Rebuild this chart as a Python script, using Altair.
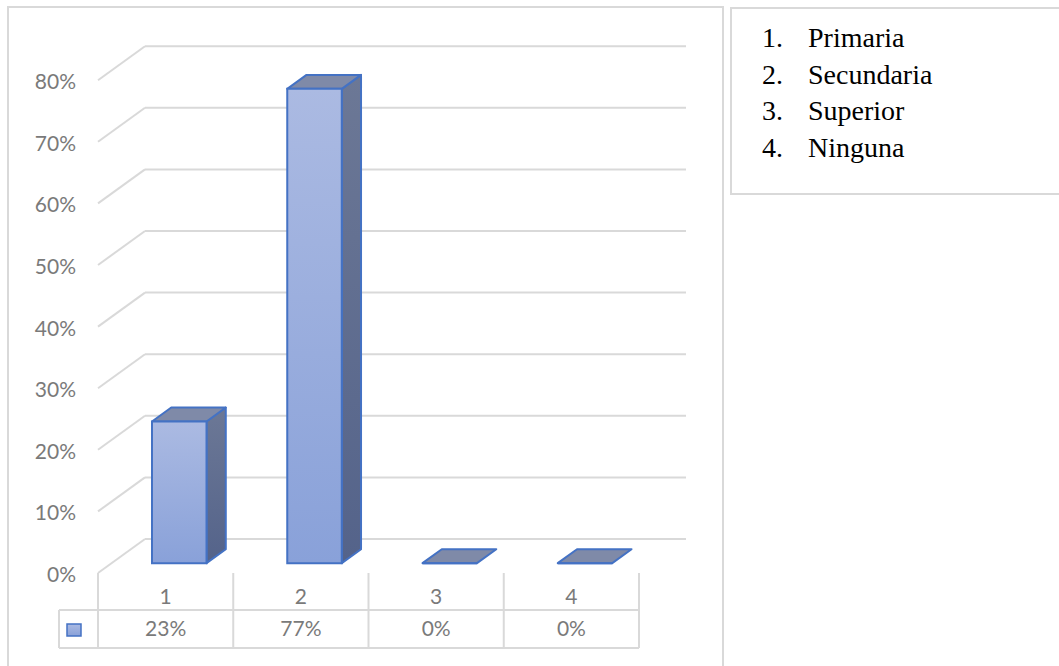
import altair as alt
import pandas as pd

# ---- data -------------------------------------------------------------
categories = ["1", "2", "3", "4"]
shares = [23, 77, 0, 0]
share_labels = ["23%", "77%", "0%", "0%"]
ticks = [0, 10, 20, 30, 40, 50, 60, 70, 80]
tick_labels = ["0%", "10%", "20%", "30%", "40%", "50%", "60%", "70%", "80%"]
legend_numbers = ["1.", "2.", "3.", "4."]
legend_names = ["Primaria", "Secundaria", "Superior", "Ninguna"]

# ---- layout ------------------------------------------------------------
# x runs in category columns (column k spans k-1 .. k), y in percent on the
# front plane of the floor.  Page pixels are converted to those units.
W, H = 1059, 666
COL_PX, COL0_PX = 135.25, 98.0      # column width and left edge of column 1
PCT_PX, ZERO_PX = 6.16, 573.0       # pixels per percent and y of 0 % (front)


def u(px):
    return (px - COL0_PX) / COL_PX


def v(py):
    return (ZERO_PX - py) / PCT_PX


X = alt.Scale(domain=[u(0), u(W)], nice=False, zero=False)
Y = alt.Scale(domain=[v(H), v(0)], nice=False, zero=False)

# oblique depth of the floor (front edge -> back wall)
DX = 47 / COL_PX
DY = 34 / PCT_PX
# bar footprint: half width and front / back depth fractions
HW, D0, D1 = 0.2015, 0.29, 0.70

GRID = "#d9d9d9"
TEXT = "#7a7a7a"
EDGE = "#4472c4"
FONT = "Lato"
FSIZE = 21


def vgrad(top, bottom):
    return {"gradient": "linear", "x1": 0, "x2": 0, "y1": 0, "y2": 1,
            "stops": [{"offset": 0, "color": top},
                      {"offset": 1, "color": bottom}]}


front_grad = vgrad("#abbae2", "#89a1d9")
side_grad = vgrad("#6c7896", "#54638a")


def xq(f):
    return alt.X(f, type="quantitative", scale=X, axis=None)


def yq(f):
    return alt.Y(f, type="quantitative", scale=Y, axis=None)


# ---- back wall gridlines with their slanted left-wall segments ---------
grid_rows = []
for t in ticks:
    grid_rows.append(dict(x=0.0, x2=DX, y=t, y2=t + DY))
    grid_rows.append(dict(x=DX, x2=len(categories) + DX, y=t + DY, y2=t + DY))
grid = alt.Chart(pd.DataFrame(grid_rows)).mark_rule(
    color=GRID, strokeWidth=2).encode(
    x=xq("x"), x2="x2", y=yq("y"), y2="y2")

# ---- data table under the plot ------------------------------------------
row1, row2 = v(610), v(648)
key_left = u(59)
ncat = len(categories)
table_rows = [dict(x=float(k), x2=float(k), y=0.0, y2=row2) for k in range(ncat + 1)]
table_rows += [
    dict(x=key_left, x2=float(ncat), y=row1, y2=row1),
    dict(x=key_left, x2=float(ncat), y=row2, y2=row2),
    dict(x=key_left, x2=key_left, y=row1, y2=row2),
]
table = alt.Chart(pd.DataFrame(table_rows)).mark_rule(
    color=GRID, strokeWidth=2).encode(
    x=xq("x"), x2="x2", y=yq("y"), y2="y2")

cat_df = pd.DataFrame({
    "x": [k + 0.5 for k in range(ncat)],
    "cat": categories,
    "lab": share_labels,
    "ycat": [v(598)] * ncat,
    "yval": [v(630)] * ncat,
})
cat_text = alt.Chart(cat_df).mark_text(
    font=FONT, fontSize=FSIZE, color=TEXT, align="center", baseline="middle"
).encode(x=xq("x"), y=yq("ycat"), text="cat:N")
val_text = alt.Chart(cat_df).mark_text(
    font=FONT, fontSize=FSIZE, color=TEXT, align="center", baseline="middle"
).encode(x=xq("x"), y=yq("yval"), text="lab:N")

key = alt.Chart(pd.DataFrame([dict(x=u(67), x2=u(81), y=v(624), y2=v(636))])).mark_rect(
    fill=front_grad, stroke=EDGE, strokeWidth=1.5).encode(
    x=xq("x"), x2="x2", y=yq("y"), y2="y2")

# ---- value axis labels ---------------------------------------------------
axis_df = pd.DataFrame({"t": ticks, "lab": tick_labels, "x": [u(76)] * len(ticks)})
axis_text = alt.Chart(axis_df).mark_text(
    font=FONT, fontSize=FSIZE, color=TEXT, align="right", baseline="middle", dy=3
).encode(x=xq("x"), y=yq("t"), text="lab:N")

# ---- 3-D columns -----------------------------------------------------------
base = D0 * DY
ddx, ddy = (D1 - D0) * DX, (D1 - D0) * DY
front_rows, top_rows, side_rows = [], [], []
for i, (c, val) in enumerate(zip(categories, shares)):
    centre = i + 0.5
    xl = centre - HW + D0 * DX
    xr = centre + HW + D0 * DX
    front_rows.append(dict(bar=c, x=xl, x2=xr, y=base, y2=base + val))
    top_rows.append(dict(bar=c, y=base + val, xa=xl, xb=xr))
    top_rows.append(dict(bar=c, y=base + val + ddy, xa=xl + ddx, xb=xr + ddx))
    if val > 0:
        side_rows.append(dict(bar=c, x=xr, lo=base, hi=base + val))
        side_rows.append(dict(bar=c, x=xr + ddx, lo=base + ddy, hi=base + val + ddy))

side = alt.Chart(pd.DataFrame(side_rows)).mark_area(
    orient="vertical", fill=side_grad, stroke=EDGE, strokeWidth=2,
    strokeJoin="round").encode(
    x=xq("x"), y=yq("hi"), y2="lo", detail="bar:N")
top = alt.Chart(pd.DataFrame(top_rows)).mark_area(
    orient="horizontal", fill="#7f8aa8", stroke=EDGE, strokeWidth=2,
    strokeJoin="round").encode(
    y=yq("y"), x=xq("xa"), x2="xb", detail="bar:N")
front = alt.Chart(pd.DataFrame(front_rows)).mark_rect(
    fill=front_grad, stroke=EDGE, strokeWidth=2).encode(
    x=xq("x"), x2="x2", y=yq("y"), y2="y2")

# ---- frames: chart area and the text box beside it ------------------------
frames_df = pd.DataFrame([
    dict(x=u(8), x2=u(723), y=v(7), y2=v(690)),
    dict(x=u(731), x2=u(1075), y=v(8), y2=v(194)),
])
frames = alt.Chart(frames_df).mark_rect(
    fill="#ffffff", fillOpacity=0, stroke=GRID, strokeWidth=2).encode(
    x=xq("x"), x2="x2", y=yq("y"), y2="y2")

# ---- numbered list in the text box ----------------------------------------
line_step = 36.7 / PCT_PX
list_df = pd.DataFrame({
    "num": legend_numbers,
    "name": legend_names,
    "y": [v(47) - k * line_step for k in range(len(legend_names))],
    "xn": [u(762)] * len(legend_names),
    "xl": [u(808)] * len(legend_names),
})
list_num = alt.Chart(list_df).mark_text(
    font="Liberation Serif", fontSize=28, color="#000000", align="left",
    baseline="alphabetic").encode(x=xq("xn"), y=yq("y"), text="num:N")
list_name = alt.Chart(list_df).mark_text(
    font="Liberation Serif", fontSize=28, color="#000000", align="left",
    baseline="alphabetic").encode(x=xq("xl"), y=yq("y"), text="name:N")

chart = alt.layer(
    frames, grid, table, key, side, top, front,
    axis_text, cat_text, val_text, list_num, list_name,
).properties(
    width=W, height=H, padding=0,
    autosize=alt.AutoSizeParams(type="none"),
    background="white",
).configure_view(stroke=None)

chart.save("out.html", embed_options={"renderer": "svg", "actions": False})
